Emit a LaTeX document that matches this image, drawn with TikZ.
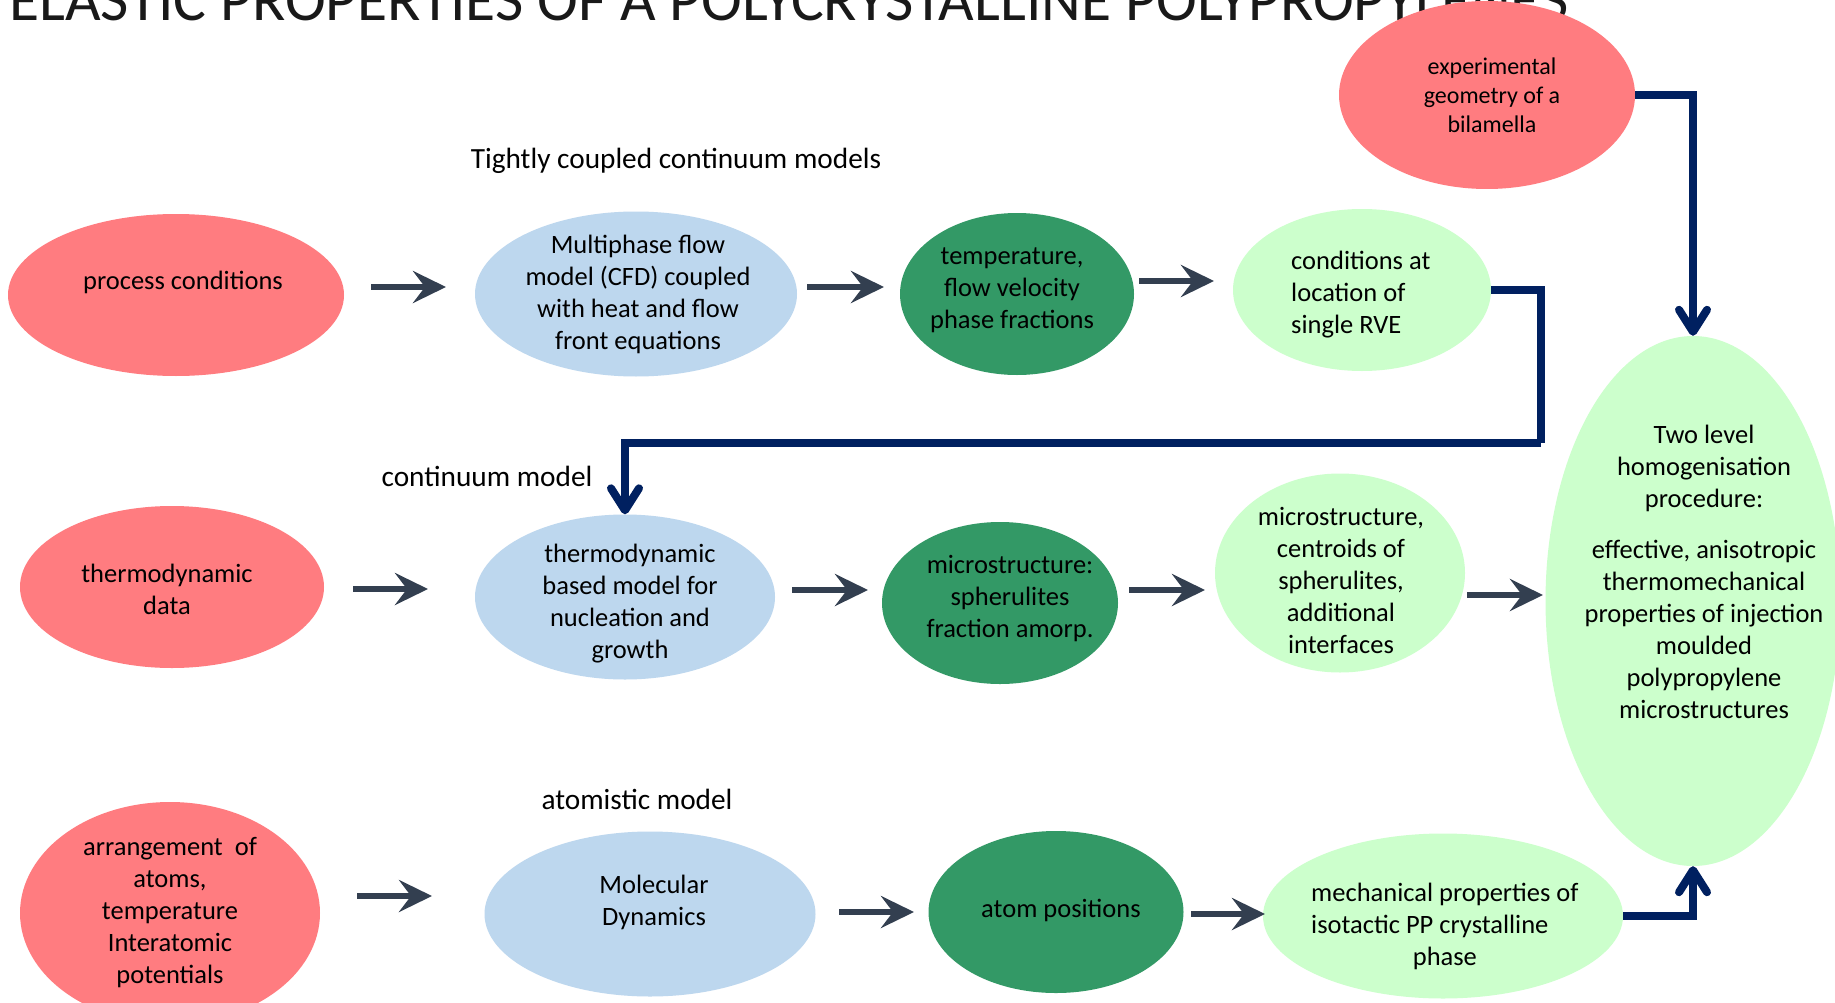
\documentclass[tikz,border=0pt]{standalone}
\usepackage{fontspec}
\setmainfont{Carlito}
\usetikzlibrary{arrows.meta,shapes.geometric}
\definecolor{cred}{HTML}{FF7C80}
\definecolor{cblue}{HTML}{BDD7EE}
\definecolor{cdkgreen}{HTML}{339966}
\definecolor{cltgreen}{HTML}{CCFFCC}
\definecolor{cnavy}{HTML}{002060}
\definecolor{cslate}{HTML}{333F50}
\begin{document}
\begin{tikzpicture}[x=1pt,y=-1pt,
  blob/.style={ellipse, inner sep=0pt, draw=none},
  redb/.style={blob, fill=cred},
  blueb/.style={blob, fill=cblue},
  dkb/.style={blob, fill=cdkgreen},
  ltb/.style={blob, fill=cltgreen},
  txt/.style={inner sep=0pt, align=center, font=\fontsize{26.5}{32}\selectfont},
  txtl/.style={inner sep=0pt, align=left, font=\fontsize{26.5}{32}\selectfont},
  lbl/.style={inner sep=0pt, font=\fontsize{29.3}{35}\selectfont},
  garrow/.style={draw=cslate, line width=6.5pt, -{Stealth[length=33pt,width=32pt,inset=12pt]}},
  narrow/.style={draw=cnavy, line width=8pt, -{Straight Barb[length=22pt,width=28pt,round]}},
  nline/.style={draw=cnavy, line width=8pt},
]
\path[use as bounding box, clip] (0,0) rectangle (1835,1003);
\fill[white] (0,0) rectangle (1835,1003);

% title (partly hidden)
\node[anchor=base west, inner sep=0pt, font=\fontsize{61.5}{70}\selectfont, text=black!90] (title) at (9,21) {ELASTIC PROPERTIES OF A POLYCRYSTALLINE POLYPROPYLENES};

% row labels
\node[lbl] (lab1) at (676,161) {Tightly coupled continuum models};
\node[lbl] (lab2) at (487,476) {continuum model};
\node[lbl] (lab3) at (637,799) {atomistic model};

% ellipses
\node[redb, minimum width=336pt, minimum height=162pt] (pc) at (176,295) {};
\node[blueb, minimum width=322pt, minimum height=165pt] (mf) at (636,294) {};
\node[dkb, minimum width=234pt, minimum height=162pt] (tf) at (1017,294) {};
\node[ltb, minimum width=258pt, minimum height=162pt] (cr) at (1362,290) {};
\node[redb, minimum width=296pt, minimum height=188pt] (eg) at (1487,95) {};

\node[redb, minimum width=304pt, minimum height=162pt] (td) at (172,587) {};
\node[blueb, minimum width=300pt, minimum height=165pt] (tm) at (625,597) {};
\node[dkb, minimum width=236pt, minimum height=162pt] (ms) at (1000,603) {};
\node[ltb, minimum width=250pt, minimum height=199pt] (mc) at (1340,573) {};
\node[ltb, minimum width=295pt, minimum height=530pt] (tl) at (1693,601) {};

\node[redb, minimum width=300pt, minimum height=222pt] (ar) at (170,913) {};
\node[blueb, minimum width=331pt, minimum height=165pt] (md) at (650,914) {};
\node[dkb, minimum width=255pt, minimum height=162pt] (ap) at (1056,912) {};
\node[ltb, minimum width=360pt, minimum height=165pt] (mp) at (1443,916) {};

% texts
\node[txt] (pcT) at (183,282) {process conditions};
\node[txt] (mfT) at (638,294) {Multiphase flow\\model (CFD) coupled\\with heat and flow\\front equations};
\node[txt] (tfT) at (1012,290) {temperature,\\flow velocity\\phase fractions};
\node[txtl, anchor=west] (crT) at (1291,295) {conditions at\\location of\\single RVE};
\node[txt, font=\fontsize{24}{29}\selectfont] (egT) at (1492,95) {experimental\\geometry of a\\bilamella};

\node[txt] (tdT) at (167,589) {thermodynamic\\data};
\node[txt] (tmT) at (630,604) {thermodynamic\\based model for\\nucleation and\\growth};
\node[txt] (msT) at (1010,599) {microstructure:\\spherulites\\fraction amorp.};
\node[txt] (mcT) at (1341,580) {microstructure,\\centroids of\\spherulites,\\additional\\interfaces};
\node[txt] (tlT) at (1704,572) {Two level\\homogenisation\\procedure:\\[19pt]effective, anisotropic\\thermomechanical\\properties of injection\\moulded\\polypropylene\\microstructures};

\node[txt] (arT) at (170,913) {arrangement\ \ of\\atoms,\\temperature\\Interatomic\\potentials};
\node[txt] (mdT) at (654,902) {Molecular\\Dynamics};
\node[txt] (apT) at (1061,910) {atom positions};
\node[inner sep=0pt, anchor=west, font=\fontsize{26.5}{32}\selectfont] (mpT) at (1311,927) {\begin{tabular}{@{}l@{}}mechanical properties of\\isotactic PP crystalline\\\multicolumn{1}{@{}c@{}}{phase}\end{tabular}};

% gray arrows
\coordinate (g1a) at (371,287); \coordinate (g1b) at (446,287);
\coordinate (g2a) at (807,287); \coordinate (g2b) at (884,287);
\coordinate (g3a) at (1139,281); \coordinate (g3b) at (1214,281);
\coordinate (g4a) at (353,589); \coordinate (g4b) at (428,589);
\coordinate (g5a) at (792,590); \coordinate (g5b) at (868,590);
\coordinate (g6a) at (1129,590); \coordinate (g6b) at (1205,590);
\coordinate (g7a) at (1467,595); \coordinate (g7b) at (1543,595);
\coordinate (g8a) at (357,896); \coordinate (g8b) at (432,896);
\coordinate (g9a) at (839,912); \coordinate (g9b) at (914,912);
\coordinate (g10a) at (1191,914); \coordinate (g10b) at (1265,914);
\foreach \i in {1,...,10} { \draw[garrow] (g\i a) -- (g\i b); }

% navy connectors
\draw[narrow] (eg.east) -| (tl.north);
\coordinate (k1) at (1541,443);
\draw[nline] (cr.east) -| (k1);
\draw[narrow] (k1) -| (tm.north);
\draw[narrow] (mp.east) -| (tl.south);
\end{tikzpicture}
\end{document}
